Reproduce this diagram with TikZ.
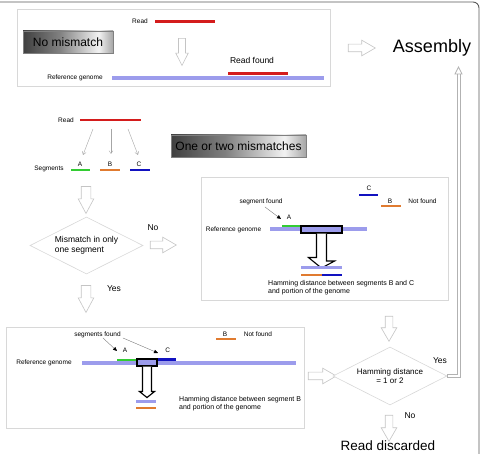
\documentclass[tikz,border=0pt]{standalone}
\usepackage{fontspec}
\setmainfont{Liberation Sans}
\usetikzlibrary{shapes.geometric,shapes.arrows,arrows.meta,calc}
\definecolor{readred}{HTML}{D41C1C}
\definecolor{seggreen}{HTML}{33CC33}
\definecolor{segorange}{HTML}{E07B30}
\definecolor{segblue}{HTML}{1212C0}
\definecolor{refblue}{HTML}{9C9CEC}
\definecolor{boxgray}{HTML}{D8D8D8}
\definecolor{arrgray}{HTML}{C4C4C4}
\pgfdeclarehorizontalshading{titleshade}{100bp}{color(0bp)=(black!75); color(25bp)=(black!75); color(45bp)=(black!50); color(67bp)=(black!5); color(75bp)=(black!35); color(100bp)=(black!35)}
\begin{document}
\begin{tikzpicture}[x=1pt,y=-1pt,
  panel/.style={draw=boxgray, line width=0.8pt, fill=white, inner sep=0, anchor=north west},
  titlebox/.style={draw=black!50, line width=0.5pt, shading=titleshade, inner sep=0, font=\fontsize{12}{14}\selectfont, minimum height=22pt},
  lbl/.style={inner sep=0, font=\fontsize{6.5}{7.8}\selectfont},
  txt/.style={inner sep=0, font=\fontsize{7}{8.2}\selectfont, align=left, anchor=north west},
  mid/.style={inner sep=0, font=\fontsize{8.5}{10}\selectfont},
  seg/.style={inner sep=0, minimum height=2.5pt, outer sep=0},
  refg/.style={inner sep=0, minimum height=4pt, fill=refblue, outer sep=0},
  blockarr/.style={single arrow, draw=arrgray, fill=white, line width=0.6pt, inner sep=3.5pt, single arrow head extend=4pt, single arrow tip angle=60, outer sep=0},
  downarr/.style={blockarr, shape border rotate=270},
  thinarr/.style={draw=black!35, line width=0.4pt, -{Straight Barb[length=3pt,width=4pt]}},
  ptr/.style={draw=black!55, line width=0.35pt, -{Triangle[length=4pt,width=3.5pt,color=black]}},
  focus/.style={draw=black, line width=1.1pt, fill=refblue, inner sep=0},
  tarr/.style={draw=black, line width=1.1pt, fill=white, line join=miter},
  choice/.style={diamond, draw=boxgray, line width=0.6pt, inner sep=0, aspect=2, fill=white},
  tubeline/.style={draw=black!30, line width=0.7pt}
]
\useasboundingbox (0,0) rectangle (480,454);
\draw[black!65, line width=0.9pt, rounded corners=6pt] (-10,2) rectangle (479,470);

% ---------- panels
\node[panel, minimum width=313pt, minimum height=77pt] (box1) at (17,9) {};
\node[panel, minimum width=247pt, minimum height=123pt] (box2) at (201,177) {};
\node[panel, minimum width=298pt, minimum height=101pt] (box3) at (6,327) {};

% ---------- box 1: no mismatch
\node[lbl] (read1l) at (140,21) {Read};
\node[seg, fill=readred, minimum width=60pt, minimum height=2.2pt] (read1) at (185,21.5) {};
\node[titlebox, minimum width=90pt] (t1) at (68,42) {No mismatch};
\node[downarr, minimum height=27pt, inner sep=3.2pt, single arrow head extend=2.8pt, single arrow tip angle=54] (a1) at (182,48.5) {};
\node[mid] (found) at (252,60) {Read found};
\node[refg, minimum width=212pt, minimum height=3.5pt] (ref1) at (218,78) {};
\node[seg, fill=readred, minimum width=60pt, minimum height=2.2pt] (read1f) at (258,73.5) {};
\node[lbl] (ref1l) at (75,78) {Reference genome};
\node[blockarr, minimum height=27pt] (a2) at (358.5,48) {};
\node[inner sep=0, font=\fontsize{18}{21}\selectfont] (asm) at (432,48) {Assembly};

% ---------- read split into segments
\node[lbl] (read2l) at (66,120) {Read};
\node[seg, fill=readred, minimum width=61pt, minimum height=2.2pt] (read2) at (110.5,120) {};
\coordinate (r1) at (93,129);  \coordinate (e1) at (83,155);
\coordinate (r2) at (111,129); \coordinate (e2) at (111,154);
\coordinate (r3) at (128,129); \coordinate (e3) at (138,155);
\draw[thinarr] (r1) -- (e1);
\draw[thinarr] (r2) -- (e2);
\draw[thinarr] (r3) -- (e3);
\node[lbl] (segl) at (49,169) {Segments};
\node[lbl] (sAl) at (80,164) {A};
\node[lbl] (sBl) at (110,164) {B};
\node[lbl] (sCl) at (139,164) {C};
\node[seg, fill=seggreen, minimum width=19pt] (sA) at (80.5,170) {};
\node[seg, fill=segorange, minimum width=20pt] (sB) at (110,170) {};
\node[seg, fill=segblue, minimum width=20pt] (sC) at (140,170) {};
\node[titlebox, minimum width=135pt] (t2) at (238.5,146) {One or two mismatches};

\node[downarr, minimum height=27pt, inner sep=4.5pt, single arrow head extend=3pt, single arrow tip angle=56] (a3) at (86,195.5) {};
\node[choice, minimum width=113pt, minimum height=57pt, align=left, font=\fontsize{8.5}{10}\selectfont] (d1) at (86.5,245.5) {Mismatch in only\\one segment};
\node[mid] (no1) at (153,228) {No};
\node[blockarr, minimum height=26pt] (a4) at (160,245) {};
\node[downarr, minimum height=27pt, inner sep=4.5pt, single arrow head extend=3pt, single arrow tip angle=56] (a5) at (86,294.5) {};
\node[mid] (yes1) at (114,289) {Yes};

% ---------- box 2: mismatches in two segments
\node[lbl] (c2l) at (369,188) {C};
\node[seg, fill=segblue, minimum width=19pt] (c2) at (368.5,195) {};
\node[lbl] (b2l) at (390,201) {B};
\node[seg, fill=segorange, minimum width=20pt] (b2) at (391,206) {};
\node[lbl] (nf2) at (422.5,201.5) {Not found};
\node[lbl] (sf2) at (261,202) {segment found};
\coordinate (p2s) at (265,207); \coordinate (p2e) at (281,219);
\draw[ptr] (p2s) -- (p2e);
\node[lbl] (a2l) at (289,217) {A};
\node[lbl] (ref2l) at (233.5,230) {Reference genome};
\node[refg, minimum width=97pt] (ref2) at (318.5,229.5) {};
\node[seg, fill=seggreen, minimum width=19pt] (g2) at (291.5,226) {};
\node[focus, minimum width=41pt, minimum height=7pt] (f2) at (321.5,229.5) {};
\draw[tarr] ($(f2.south)+(-5,0)$) -- ++(0,24) -- ++(-8,0) -- ($(f2.south)+(0,34.5)$) -- ++(13,-7) -- ++(-8,0) -- ($(f2.south)+(5,0)$);
\node[seg, fill=refblue, minimum width=41pt, minimum height=3pt] (h2a) at (321.5,268) {};
\node[seg, fill=segorange, minimum width=21pt] (h2b) at (311.5,275) {};
\node[seg, fill=segblue, minimum width=20pt] (h2c) at (332,275) {};
\node[txt] (hd2) at (268,280.5) {Hamming distance between segments B and C\\and portion of the genome};

% ---------- box 3: mismatch in one segment
\node[lbl] (sf3) at (97.5,334.7) {segments found};
\coordinate (p3s) at (103,338); \coordinate (p3e) at (117,351);
\coordinate (q3s) at (123,338); \coordinate (q3e) at (158,353);
\draw[ptr] (p3s) -- (p3e);
\draw[ptr] (q3s) -- (q3e);
\node[lbl] (a3l) at (125,350) {A};
\node[lbl] (c3l) at (167.7,350) {C};
\node[lbl] (b3l) at (225,334) {B};
\node[seg, fill=segorange, minimum width=20pt] (b3) at (226,339) {};
\node[lbl] (nf3) at (258,334.5) {Not found};
\node[lbl] (ref3l) at (44,363.3) {Reference genome};
\node[refg, minimum width=214pt] (ref3) at (189,363) {};
\node[seg, fill=seggreen, minimum width=20pt] (g3) at (127,360) {};
\node[seg, fill=segblue, minimum width=19pt] (c3) at (166.5,359.5) {};
\node[focus, minimum width=20pt, minimum height=7pt] (f3) at (147,362.5) {};
\draw[tarr] ($(f3.south)+(-4.5,0)$) -- ++(0,25) -- ++(-3,0) -- ($(f3.south)+(0,31)$) -- ++(7.5,-6) -- ++(-3,0) -- ($(f3.south)+(4.5,0)$);
\node[seg, fill=refblue, minimum width=20pt, minimum height=3pt] (h3a) at (146,402) {};
\node[seg, fill=segorange, minimum width=20pt] (h3b) at (146,408) {};
\node[txt] (hd3) at (179,396) {Hamming distance between segment B\\and portion of the genome};

% ---------- Hamming decision
\node[blockarr, minimum height=28pt] (a6) at (319,376) {};
\node[downarr, minimum height=25pt] (a7) at (389,325.5) {};
\node[choice, minimum width=114pt, minimum height=58pt, align=center, font=\fontsize{8}{9.5}\selectfont] (d2) at (390,376) {Hamming distance\\= 1 or 2};
\node[mid] (yes2) at (440,361) {Yes};
\node[downarr, minimum height=26pt] (a8) at (389,425) {};
\node[mid] (no2) at (410,416) {No};
\node[inner sep=0, font=\fontsize{13.5}{16}\selectfont] (disc) at (388,446) {Read discarded};

% ---------- thin hollow connector from the decision up to Assembly
\coordinate (uptip) at (458.5,67);
\coordinate (tubeL) at (457,74);
\coordinate (tubeR) at (460,74);
\draw[tubeline] ($(d2.east)+(0,-1.6)$) -| (tubeL);
\draw[tubeline] ($(d2.east)+(0,1.6)$) -| (tubeR);
\draw[tubeline] ($(d2.east)+(0,-1.6)$) -- ($(d2.east)+(0,1.6)$);
\draw[tubeline, fill=white, line join=miter] ($(uptip)+(-3.5,7)$) -- (uptip) -- ($(uptip)+(3.5,7)$) -- cycle;
\end{tikzpicture}
\end{document}
